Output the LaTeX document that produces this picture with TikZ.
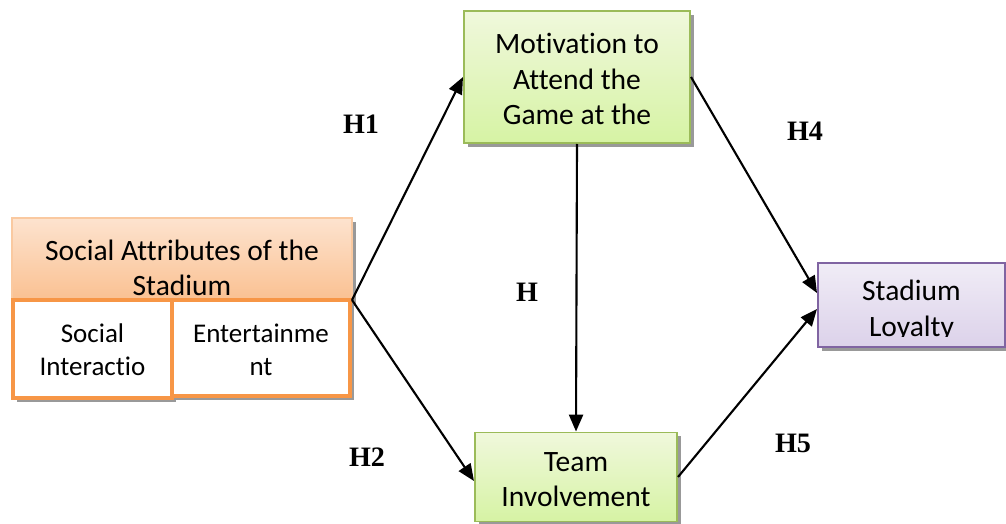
\documentclass[tikz,border=0pt]{standalone}
\usepackage{fontspec}
\setmainfont{Carlito}[Ligatures={NoCommon,NoRequired,NoContextual},RawFeature={-liga;-clig;-calt;-dlig}]
\newfontfamily\hfont{Liberation Serif}
\usetikzlibrary{arrows.meta,shadows}
\definecolor{orgborder}{HTML}{F79646}
\definecolor{orglight}{HTML}{FAC9A0}
\definecolor{orgtop}{HTML}{FDE3CF}
\definecolor{orgbot}{HTML}{FAC090}
\definecolor{grnborder}{HTML}{9BBB59}
\definecolor{grntop}{HTML}{F0F8DC}
\definecolor{grnbot}{HTML}{D6F3A4}
\definecolor{purborder}{HTML}{8064A2}
\definecolor{purtop}{HTML}{F0ECF6}
\definecolor{purbot}{HTML}{DCD2EA}
\tikzset{
  px/.style={x=0.025cm,y=-0.025cm},
  shadowed/.style={drop shadow={shadow xshift=0.1cm,shadow yshift=-0.1cm,fill=black!40,opacity=1}},
  orgbox/.style={draw=orglight,line width=1pt,top color=orgtop,bottom color=orgbot,shadowed,inner sep=0pt},
  subbox/.style={draw=orgborder,line width=2.2pt,fill=white,shadowed,inner sep=0pt},
  grnbox/.style={draw=grnborder,line width=1.4pt,top color=grntop,bottom color=grnbot,shadowed,inner sep=0pt},
  purbox/.style={draw=purborder,line width=1.4pt,top color=purtop,bottom color=purbot,shadowed,inner sep=0pt},
  btext/.style={font=\fontsize{21}{25}\selectfont,align=center,inner sep=0pt},
  stext/.style={font=\fontsize{19.2}{23.4}\selectfont,align=center,inner sep=0pt},
  hlab/.style={font=\hfont\bfseries\fontsize{20}{22}\selectfont,inner sep=0pt},
  conn/.style={line width=1.5pt,-{Triangle[length=12pt,width=10pt]}}
}
\begin{document}
\begin{tikzpicture}[px]
\useasboundingbox (0,0) rectangle (1006,524);
% left composite
\node[orgbox,minimum width=8.5cm,minimum height=2.1cm] (sa) at (182,260) {};
\node[btext] (satext) at (182,268) {Social Attributes of the\\Stadium};
\node[subbox,minimum width=3.975cm,minimum height=2.45cm] (si) at (92.5,349) {};
\node[stext] at (92.5,350) {Social\\Interactio};
\node[subbox,minimum width=4.45cm,minimum height=2.4cm] (en) at (261,348) {};
\node[stext] at (261,350) {Entertainme\\nt};
\coordinate (j) at (352,300);
% right boxes
\node[grnbox,minimum width=5.65cm,minimum height=3.3cm] (mo) at (577,77) {};
\node[btext] at (577,79) {Motivation to\\Attend the\\Game at the};
\node[grnbox,minimum width=5.05cm,minimum height=2.225cm] (ti) at (576,477) {};
\node[btext] at (576,480) {Team\\Involvement};
\node[purbox,minimum width=4.675cm,minimum height=2.1cm] (sl) at (911.5,305) {};
\begin{scope}
\clip (820,265) rectangle (1003,336);
\node[btext,anchor=base] (sl1) at (911.5,301) {Stadium};
\node[btext,anchor=base] (sl2) at (911.5,336) {Loyalty};
\end{scope}
% connectors
\draw[conn] (j) -- (mo.west);
\draw[conn] (j) -- ([yshift=-0.1cm]ti.west);
\draw[conn] (mo.south) -- (ti.north);
\draw[conn] (mo.east) -- ([yshift=0.3cm]sl.west);
\draw[conn] (ti.east) -- ([yshift=-0.1cm]sl.west);
% labels
\node[hlab] (h1) at (361,124) {H1};
\node[hlab] (h2) at (367,457) {H2};
\node[hlab] (h3) at (527,292) {H};
\node[hlab] (h4) at (805,131) {H4};
\node[hlab] (h5) at (793,443) {H5};
\end{tikzpicture}
\end{document}
